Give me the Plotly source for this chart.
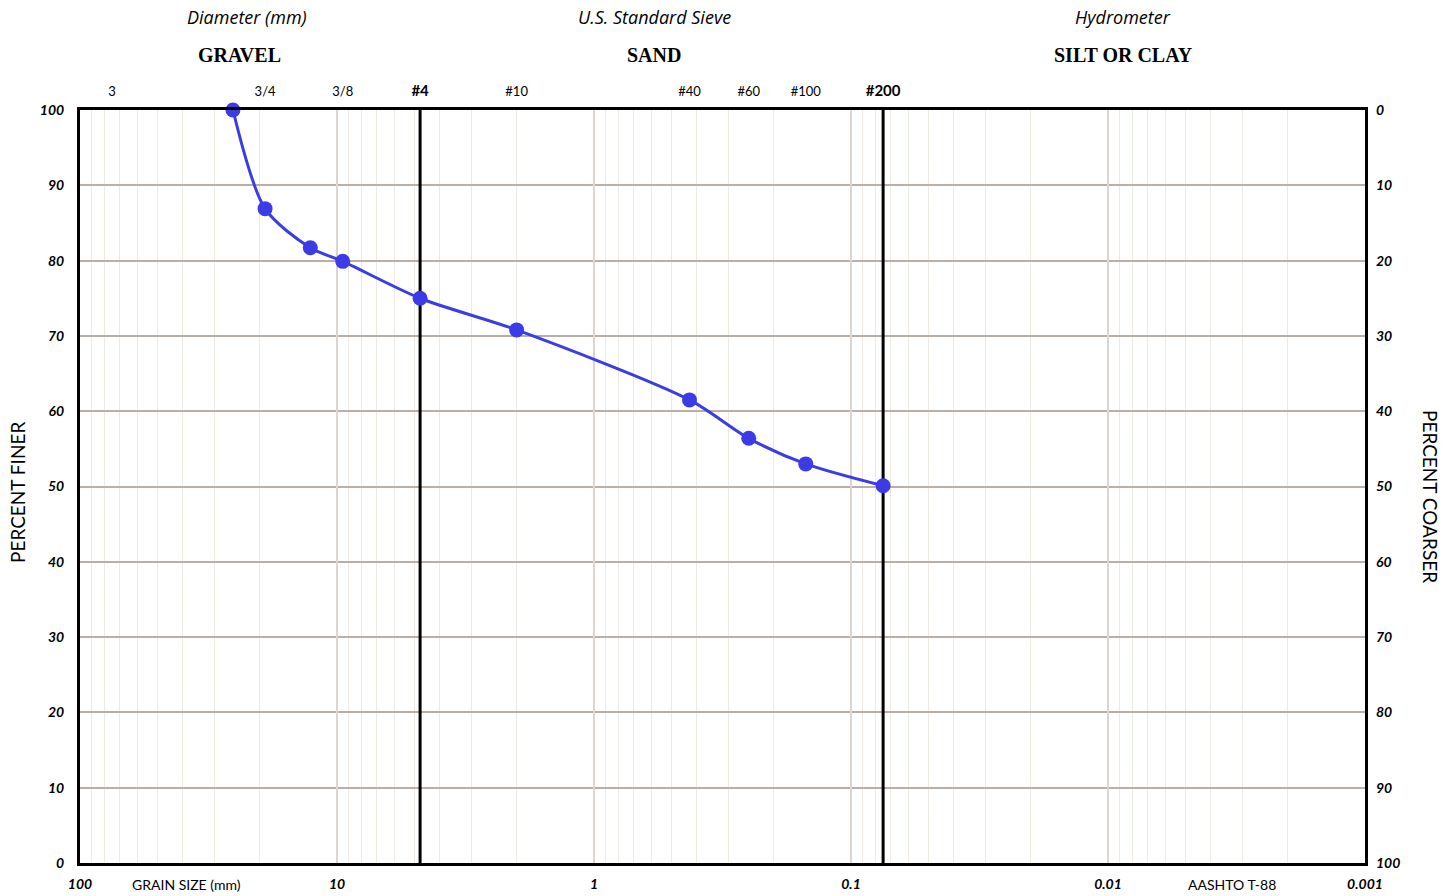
import plotly.graph_objects as go

# Sieve analysis results: grain diameter (mm) vs percent passing
diameter_mm = [25.4, 19.05, 12.7, 9.5, 4.75, 2.0, 0.425, 0.25, 0.15, 0.075]
percent_finer = [100.0, 86.9, 81.7, 79.9, 75.0, 70.8, 61.5, 56.4, 53.0, 50.1]

# Bottom axis: decade labels
decade_vals = [100, 10, 1, 0.1, 0.01, 0.001]
decade_text = ["100", "10", "1", "0.1", "0.01", "0.001"]

# Top axis: standard sieve designations
sieve_vals = [75.0, 19.05, 9.5, 4.75, 2.0, 0.425, 0.25, 0.15, 0.075]
sieve_text = ["3", "3/4", "3/8",
              "<span style='font-size:15px'><b>#4</b></span>",
              "#10", "#40", "#60", "#100",
              "<span style='font-size:15px'><b>#200</b></span>"]

# Boundaries between soil classes (#4 and #200 sieves)
boundaries = [4.75, 0.075]

percent_ticks = list(range(0, 101, 10))

# Minor log grid (1..9 per decade)
minor_vals = []
for dec in [0.001, 0.01, 0.1, 1, 10]:
    for m in range(1, 10):
        minor_vals.append(round(dec * m, 6))
minor_vals.append(100)

BLUE = "#3c3ce6"
LABEL_FONT = "Lato"

fig = go.Figure()

# decade grid lines, a touch darker than the minor grid
for d in decade_vals[1:-1]:
    fig.add_trace(go.Scatter(x=[d, d], y=[0, 100], mode="lines",
                             line=dict(color="#ddd5cf", width=2),
                             hoverinfo="skip", showlegend=False))

# class boundary lines
for b in boundaries:
    fig.add_trace(go.Scatter(x=[b, b], y=[0, 100], mode="lines",
                             line=dict(color="black", width=3),
                             hoverinfo="skip", showlegend=False))

# gradation curve
fig.add_trace(go.Scatter(
    x=diameter_mm, y=percent_finer, mode="lines+markers",
    line=dict(color=BLUE, width=3, shape="spline", smoothing=0.8),
    marker=dict(color=BLUE, size=15),
    showlegend=False, cliponaxis=False,
))

# dummy traces to activate secondary axes
fig.add_trace(go.Scatter(x=[1], y=[50], xaxis="x2", yaxis="y", mode="markers",
                         marker=dict(opacity=0), hoverinfo="skip", showlegend=False))
fig.add_trace(go.Scatter(x=[1], y=[50], xaxis="x", yaxis="y2", mode="markers",
                         marker=dict(opacity=0), hoverinfo="skip", showlegend=False))

tick_font = dict(family=LABEL_FONT, size=14, color="black", weight="bold", style="italic")

fig.update_layout(
    width=1456, height=896,
    margin=dict(l=80, r=91, t=110, b=33),
    plot_bgcolor="white", paper_bgcolor="white",
    xaxis=dict(
        type="log", range=[2, -3], automargin=False,
        tickmode="array", tickvals=minor_vals,
        ticktext=[decade_text[decade_vals.index(v)] if v in decade_vals else "" for v in minor_vals],
        tickfont=tick_font, ticks="",
        showgrid=True, gridcolor="#efe9e3", gridwidth=1,
        showline=True, linecolor="black", linewidth=3, mirror=True,
        zeroline=False, ticklabelstandoff=6,
    ),
    xaxis2=dict(
        type="log", range=[2, -3], overlaying="x", side="top", automargin=False,
        tickmode="array", tickvals=sieve_vals, ticktext=sieve_text,
        tickfont=dict(family=LABEL_FONT, size=13, color="black"),
        ticks="", showgrid=False, showline=False, zeroline=False,
        ticklabelstandoff=10,
    ),
    yaxis=dict(
        range=[0, 100], tickmode="array", tickvals=percent_ticks, automargin=False,
        tickfont=tick_font, ticks="",
        showgrid=True, gridcolor="#b9afa8", gridwidth=2,
        showline=True, linecolor="black", linewidth=3, mirror=True,
        zeroline=False, ticklabelstandoff=10,
    ),
    yaxis2=dict(
        range=[100, 0], overlaying="y", side="right", automargin=False,
        tickmode="array", tickvals=percent_ticks,
        tickfont=tick_font, ticks="", showgrid=False, showline=False,
        zeroline=False, ticklabelstandoff=10,
    ),
)

def px_x(p):
    return (p - 80) / 1285

def px_y(p):
    return (863 - p) / 753

head_italic = dict(family="Open Sans", size=18, style="italic", color="black")
head_bold = dict(family="Liberation Serif", size=20, weight="bold", color="black")
plain = dict(family=LABEL_FONT, size=14, color="black")
side = dict(family=LABEL_FONT, size=19, color="black")

annotations = [
    dict(text="Diameter (mm)", x=px_x(247), y=px_y(17), font=head_italic),
    dict(text="U.S. Standard Sieve", x=px_x(654), y=px_y(17), font=head_italic),
    dict(text="Hydrometer", x=px_x(1123), y=px_y(17), font=head_italic),
    dict(text="GRAVEL", x=px_x(239), y=px_y(55), font=head_bold),
    dict(text="SAND", x=px_x(654), y=px_y(55), font=head_bold),
    dict(text="SILT OR CLAY", x=px_x(1123), y=px_y(55), font=head_bold),
    dict(text="GRAIN SIZE (mm)", x=px_x(186), y=px_y(884), font=plain),
    dict(text="AASHTO T-88", x=px_x(1232), y=px_y(884), font=plain),
    dict(text="PERCENT FINER", x=px_x(17), y=px_y(493), textangle=-90, font=side),
    dict(text="PERCENT COARSER", x=px_x(1431), y=px_y(496), textangle=90, font=side),
]
for a in annotations:
    fig.add_annotation(xref="paper", yref="paper", showarrow=False,
                       xanchor="center", yanchor="middle", **a)

fig.write_html("out.html")
